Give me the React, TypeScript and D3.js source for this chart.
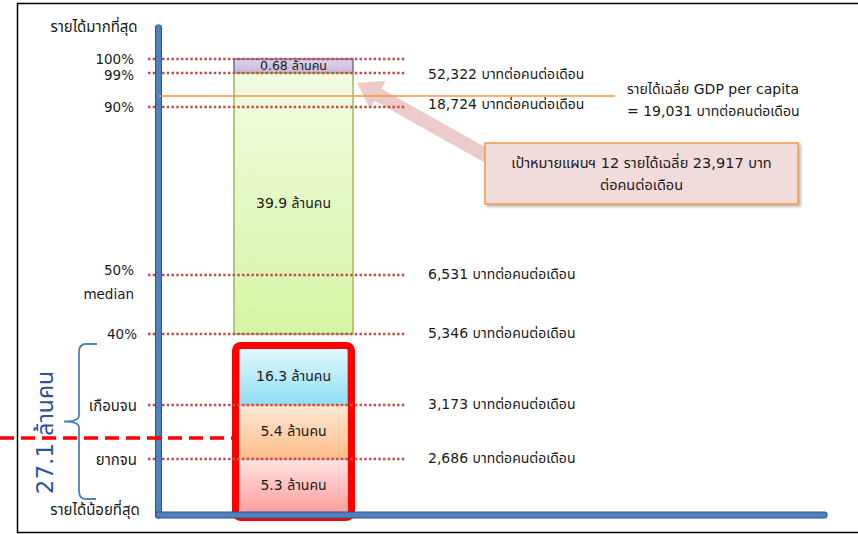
import * as React from 'react';
import * as d3 from 'd3';

// income levels (percentile of population, bottom = 0)
const levelLabels = ['100%', '99%', '90%', '50%', '40%', 'เกือบจน', 'ยากจน'];
const levelPercentiles = [100, 99, 90, 50, 40, 16, 8];
const incomeLabels = [
  '',
  '52,322 บาทต่อคนต่อเดือน',
  '18,724 บาทต่อคนต่อเดือน',
  '6,531 บาทต่อคนต่อเดือน',
  '5,346 บาทต่อคนต่อเดือน',
  '3,173 บาทต่อคนต่อเดือน',
  '2,686 บาทต่อคนต่อเดือน'
];

// population groups
const groupLabels = ['0.68 ล้านคน', '39.9 ล้านคน', '16.3 ล้านคน', '5.4 ล้านคน', '5.3 ล้านคน'];
const groupTop = [100, 99, 40, 16, 8];
const groupBottom = [99, 40, 16, 8, 0];
const groupColors = [
  ['#ddd3ea', '#c9b9de'],
  ['#f1fbe3', '#d6f5a2'],
  ['#e3f8fd', '#8fdff4'],
  ['#fde8d8', '#fbbd86'],
  ['#ffe3e3', '#ff9e9e']
];
const groupStroke = ['#8064a2', '#9bbb59', '#6fa7c4', '#f5b88a', '#f2a0a0'];

const gdpPercentile = 92.9;
const gdpText = ['รายได้เฉลี่ย GDP per capita', '= 19,031 บาทต่อคนต่อเดือน'];
const targetText = ['เป้าหมายแผนฯ 12 รายได้เฉลี่ย 23,917 บาท', 'ต่อคนต่อเดือน'];
const poorTotal = '27.1 ล้านคน';

const W = 858;
const H = 534;
const FONT = "'DejaVu Sans', Tahoma, 'Noto Sans Thai', 'Noto Sans', sans-serif";
const INK = '#1a1a1a';

export default function App() {
  // schematic (piecewise) vertical scale
  const y = d3
    .scaleLinear()
    .domain([0, 8, 16, 40, 50, 90, 99, 100])
    .range([513, 459, 405, 334, 275, 107, 73, 59]);
  const x = d3.scaleBand().domain(['bar']).range([234, 353]);
  const bx = x('bar') as number;
  const bw = x.bandwidth();

  const axisX = 158.5;
  const axisY = 515;
  const lineX0 = 148;
  const lineX1 = 405;

  // arrow from callout to bar
  const tail = [487, 156];
  const tip = [357, 83];
  const ang = Math.atan2(tip[1] - tail[1], tip[0] - tail[0]);
  const len = Math.hypot(tip[0] - tail[0], tip[1] - tail[1]);
  const headL = 24;
  const shaftW = 7;
  const headW = 16;
  const arrowPts = [
    [0, -shaftW],
    [len - headL, -shaftW],
    [len - headL, -headW],
    [len, 0],
    [len - headL, headW],
    [len - headL, shaftW],
    [0, shaftW]
  ]
    .map(([u, v]) => [
      tail[0] + u * Math.cos(ang) - v * Math.sin(ang),
      tail[1] + u * Math.sin(ang) + v * Math.cos(ang)
    ])
    .map(p => p.join(','))
    .join(' ');

  const inset = 14;
  const braceTop = y(40) + 10;
  const braceBot = y(0) - 14;
  const braceMid = (braceTop + braceBot) / 2;
  const brace = d3.path();
  brace.moveTo(97, braceTop);
  brace.lineTo(86, braceTop);
  brace.quadraticCurveTo(79, braceTop, 79, braceTop + 8);
  brace.lineTo(79, braceMid - 6);
  brace.quadraticCurveTo(79, braceMid, 64, braceMid);
  brace.quadraticCurveTo(79, braceMid, 79, braceMid + 6);
  brace.lineTo(79, braceBot - 8);
  brace.quadraticCurveTo(79, braceBot, 86, braceBot);
  brace.lineTo(96, braceBot);

  const labelDy = (p: number) => (p === 100 ? 1 : p === 99 ? 3 : p === 50 ? -4 : 1);
  const isThai = (s: string) => !/%/.test(s);

  return (
    <div style={{ position: 'absolute', left: 0, top: 0 }}>
      <svg width={W} height={H} style={{ display: 'block', fontFamily: FONT }}>
        <defs>
          {groupColors.map((c, i) => (
            <linearGradient key={i} id={`g${i}`} x1="0" y1="0" x2="0" y2="1">
              <stop offset="0%" stopColor={c[0]} />
              <stop offset="100%" stopColor={c[1]} />
            </linearGradient>
          ))}
          <filter id="shadow" x="-10%" y="-10%" width="130%" height="140%">
            <feDropShadow dx="2" dy="2" stdDeviation="1.5" floodColor="#000" floodOpacity="0.3" />
          </filter>
        </defs>
        <rect x={0} y={0} width={W} height={H} fill="#fff" />
        <rect x={17.5} y={3.5} width={W} height={529} fill="none" stroke="#000" strokeWidth={1.5} />

        {/* top / bottom captions */}
        <text x={94} y={27} fontSize={15} textAnchor="middle" dominantBaseline="middle" fill={INK}>
          รายได้มากที่สุด
        </text>
        <text x={95} y={510} fontSize={15} textAnchor="middle" dominantBaseline="middle" fill={INK}>
          รายได้น้อยที่สุด
        </text>

        {/* bars */}
        {groupLabels.map((lab, i) => {
          const low = groupTop[i] <= 40;
          const top = y(groupTop[i]) + (groupTop[i] === 40 ? inset : 0);
          const bot = y(groupBottom[i]);
          const xi = low ? bx + 5 : bx;
          const wi = low ? bw - 10 : bw;
          return (
            <g key={lab}>
              <rect x={xi} y={top} width={wi} height={bot - top} fill={`url(#g${i})`} stroke={groupStroke[i]} strokeWidth={1.5} />
              <text
                x={bx + bw / 2}
                y={(top + bot) / 2 + (i === 0 ? 0.5 : 0)}
                fontSize={i === 0 ? 12.5 : 14}
                textAnchor="middle"
                dominantBaseline="middle"
                fill={INK}
              >
                {lab}
              </text>
            </g>
          );
        })}

        {/* red box around poor groups */}
        <rect
          x={bx + 1.5}
          y={y(40) + 11.5}
          width={bw - 3}
          height={y(0) - y(40) - 7}
          rx={5}
          fill="none"
          stroke="#ff0000"
          strokeWidth={7}
        />

        {/* arrow */}
        <polygon points={arrowPts} fill="#e6b9b8" opacity={0.75} />

        {/* level lines & labels */}
        {levelLabels.map((lab, i) => (
          <g key={lab}>
            <line
              x1={lineX0}
              x2={lineX1}
              y1={y(levelPercentiles[i])}
              y2={y(levelPercentiles[i])}
              stroke="#c0504d"
              strokeWidth={2.5}
              strokeDasharray="2.5 2.2"
            />
            <text
              x={levelPercentiles[i] <= 40 ? 137 : 134}
              y={y(levelPercentiles[i]) + labelDy(levelPercentiles[i])}
              fontSize={isThai(lab) ? 15 : 13.5}
              textAnchor="end"
              dominantBaseline="middle"
              fill={INK}
            >
              {lab}
            </text>
            {incomeLabels[i] && (
              <text
                x={428}
                y={y(levelPercentiles[i]) + (i === 1 ? 2 : i === 2 ? -2 : 0)}
                fontSize={14}
                dominantBaseline="middle"
                fill={INK}
              >
                {incomeLabels[i]}
              </text>
            )}
          </g>
        ))}
        <text x={134} y={y(50) + 20} fontSize={13.5} textAnchor="end" dominantBaseline="middle" fill={INK}>
          median
        </text>

        {/* axes */}
        <rect x={axisX - 3} y={25} width={6} height={axisY - 22} fill="#4f81bd" stroke="#2f528f" strokeWidth={1} rx={2} />
        <rect x={axisX - 3} y={axisY - 3} width={830 - axisX} height={6} fill="#4f81bd" stroke="#2f528f" strokeWidth={1} rx={2} />

        {/* GDP per capita line */}
        <line x1={axisX} x2={615} y1={y(gdpPercentile)} y2={y(gdpPercentile)} stroke="#f79646" strokeWidth={1.5} />
        {gdpText.map((t, i) => (
          <text key={t} x={627} y={90 + i * 22} fontSize={14} dominantBaseline="middle" fill={INK}>
            {t}
          </text>
        ))}

        {/* callout */}
        <rect x={485} y={143} width={313} height={61} fill="#f2dcdb" stroke="#f79646" strokeWidth={1.5} filter="url(#shadow)" />
        {targetText.map((t, i) => (
          <text key={t} x={641.5} y={164 + i * 22} fontSize={14.5} textAnchor="middle" dominantBaseline="middle" fill={INK}>
            {t}
          </text>
        ))}

        {/* brace & total */}
        <path d={brace.toString()} fill="none" stroke="#4f81bd" strokeWidth={1.8} />
        <text
          transform={`translate(46, ${braceMid + 11}) rotate(-90)`}
          fontSize={23}
          textAnchor="middle"
          dominantBaseline="middle"
          fill="#2f5597"
        >
          {poorTotal}
        </text>

        {/* dashed red marker */}
        <line x1={0} x2={bx - 2} y1={438} y2={438} stroke="#ff0000" strokeWidth={3.5} strokeDasharray="14 7" />
      </svg>
    </div>
  );
}
